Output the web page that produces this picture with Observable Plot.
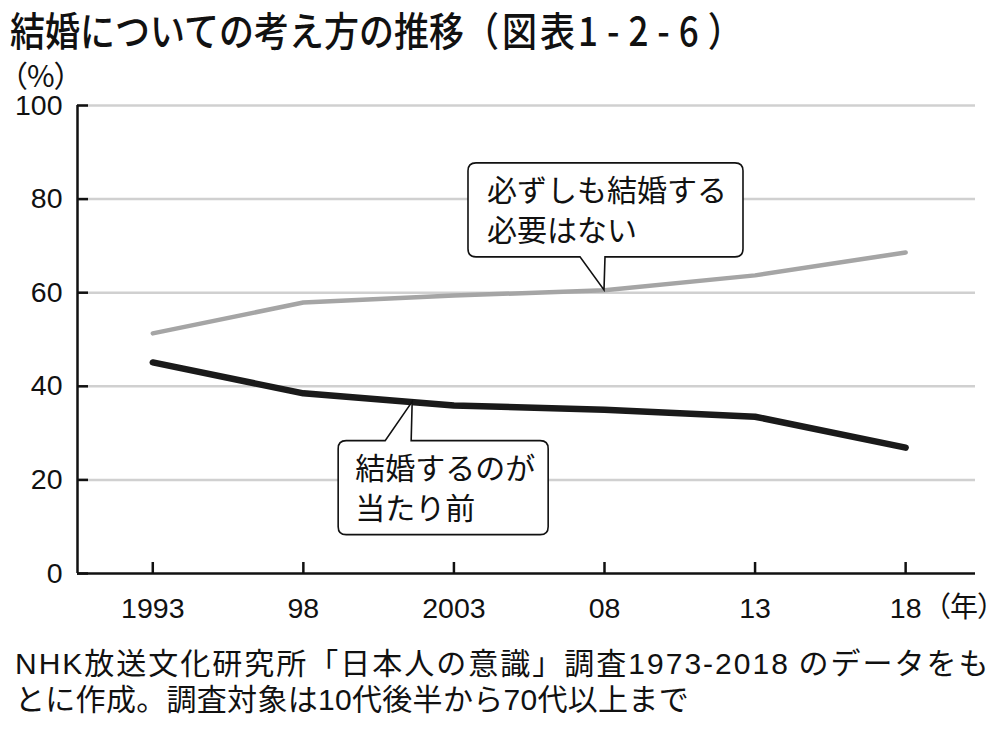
<!DOCTYPE html>
<html><head><meta charset="utf-8">
<script src="https://cdn.jsdelivr.net/npm/d3@7"></script>
<script src="https://cdn.jsdelivr.net/npm/@observablehq/plot@0.6"></script>
<style>
body{margin:0;background:#fff;}
#wrap{position:relative;width:1000px;height:729px;overflow:hidden;font-family:"Noto Sans CJK JP",sans-serif;color:#111;}
.t{position:absolute;white-space:nowrap;}
#title{left:10px;top:6px;font-size:35px;line-height:40px;font-weight:500;transform:scaleY(1.14);transform-origin:0 0;}
#title .num{letter-spacing:9px;}
#title .br{letter-spacing:3px;}
#unit{left:12px;top:59px;font-size:30px;line-height:30px;font-feature-settings:"palt";}
#year{left:936px;top:591px;font-size:28px;line-height:28px;font-feature-settings:"palt";}
#cap1{left:15px;top:646px;font-size:30px;line-height:30px;letter-spacing:2.0px;}
#cap2{left:15px;top:682px;font-size:30px;line-height:30px;letter-spacing:0.3px;}
.lat{font-family:"Liberation Sans","Noto Sans CJK JP",sans-serif;}
</style></head><body>
<div id="wrap">
  <div id="chart"></div>
  <div class="t" id="title">結婚についての考え方の推移<span class="br">（図表</span><span class="num">1-2-6</span>）</div>
  <div class="t" id="unit">（%）</div>
  <div class="t" id="year">（年）</div>
  <div class="t" id="cap1"><span class="lat">NHK</span>放送文化研究所「日本人の意識」調査<span class="lat">1973-2018</span> のデータをも</div>
  <div class="t" id="cap2">とに作成。調査対象は<span class="lat">10</span>代後半から<span class="lat">70</span>代以上まで</div>
</div>
<script>
const years = [1993, 1998, 2003, 2008, 2013, 2018];
const yearLabels = ["1993", "98", "2003", "08", "13", "18"];
const notNecessary = [51.3, 57.9, 59.4, 60.5, 63.7, 68.6];
const natural = [45.1, 38.5, 35.9, 35.0, 33.5, 26.9];
const labelNotNecessary = ["必ずしも結婚する", "必要はない"];
const labelNatural = ["結婚するのが", "当たり前"];
const yTicks = [0, 20, 40, 60, 80, 100];
const xDomain = [1990.5, 2020.32];

const rowsA = years.map((y, i) => ({year: y, value: notNecessary[i]}));
const rowsB = years.map((y, i) => ({year: y, value: natural[i]}));

// callout anchored to a data point; box geometry in pixels relative to the anchor
function callout(ax, ay, geo, lines) {
  return (index, scales) => {
    const px = scales.x(ax), py = scales.y(ay);
    const {l, r, t, b, tx1, tx2, side, textX, textY, lh} = geo;
    const c = 8;
    let d;
    if (side === "bottom") {
      d = `M${l + c},${t} H${r - c} Q${r},${t} ${r},${t + c} V${b - c} Q${r},${b} ${r - c},${b} H${tx2} L0,0 L${tx1},${b} H${l + c} Q${l},${b} ${l},${b - c} V${t + c} Q${l},${t} ${l + c},${t} Z`;
    } else {
      d = `M${l + c},${t} H${tx1} L0,0 L${tx2},${t} H${r - c} Q${r},${t} ${r},${t + c} V${b - c} Q${r},${b} ${r - c},${b} H${l + c} Q${l},${b} ${l},${b - c} V${t + c} Q${l},${t} ${l + c},${t} Z`;
    }
    const g = d3.create("svg:g").attr("transform", `translate(${px},${py})`);
    g.append("path").attr("d", d).attr("fill", "white").attr("stroke", "#111").attr("stroke-width", 1.6).attr("stroke-linejoin", "miter");
    const txt = g.append("text").attr("font-family", '"Noto Sans CJK JP", sans-serif').attr("font-size", 30)
      .attr("fill", "#111").attr("text-anchor", "start");
    lines.forEach((s, i) => txt.append("tspan").attr("x", textX).attr("y", textY + i * lh).text(s));
    return g.node();
  };
}

// anchor for second callout lies on the black line between 1998 and 2003
const ax2 = 2001.63;
const f2 = (ax2 - years[1]) / (years[2] - years[1]);
const ay2 = natural[1] + (natural[2] - natural[1]) * f2;

const chart = Plot.plot({
  width: 1000,
  height: 729,
  marginLeft: 77,
  marginRight: 25,
  marginTop: 105,
  marginBottom: 156,
  style: {fontFamily: '"Liberation Sans", Arial, sans-serif', fontSize: "28.5px", color: "#111", background: "transparent"},
  x: {domain: xDomain},
  y: {domain: [0, 100]},
  marks: [
    Plot.ruleY(yTicks.filter(d => d > 0), {stroke: "#d0d0d0", strokeWidth: 2.5}),
    Plot.axisY(yTicks, {anchor: "left", tickSize: -11, tickPadding: 26, strokeWidth: 2.5, label: null}),
    Plot.axisX(years, {anchor: "bottom", tickSize: -11, tickPadding: 35, strokeWidth: 2.5, label: null,
      tickFormat: d => yearLabels[years.indexOf(d)]}),
    Plot.ruleX([xDomain[0]], {y1: 0, y2: 100, strokeWidth: 2.5, stroke: "#111"}),
    Plot.ruleY([0], {strokeWidth: 2.5, stroke: "#111"}),
    Plot.line(rowsA, {x: "year", y: "value", stroke: "#a5a5a5", strokeWidth: 4.5, strokeLinejoin: "round", strokeLinecap: "round"}),
    Plot.line(rowsB, {x: "year", y: "value", stroke: "#1a1a1a", strokeWidth: 6.5, strokeLinejoin: "round", strokeLinecap: "round"}),
    callout(years[3], notNecessary[3], {side: "bottom", l: -136, r: 139, t: -127, b: -33, tx1: -24, tx2: 1, textX: -117, textY: -89, lh: 40}, labelNotNecessary),
    callout(ax2, ay2, {side: "top", l: -74, r: 136, t: 39, b: 133, tx1: -27, tx2: -1, textX: -57, textY: 77, lh: 40}, labelNatural)
  ]
});
document.getElementById("chart").appendChild(chart);
</script>
</body></html>
